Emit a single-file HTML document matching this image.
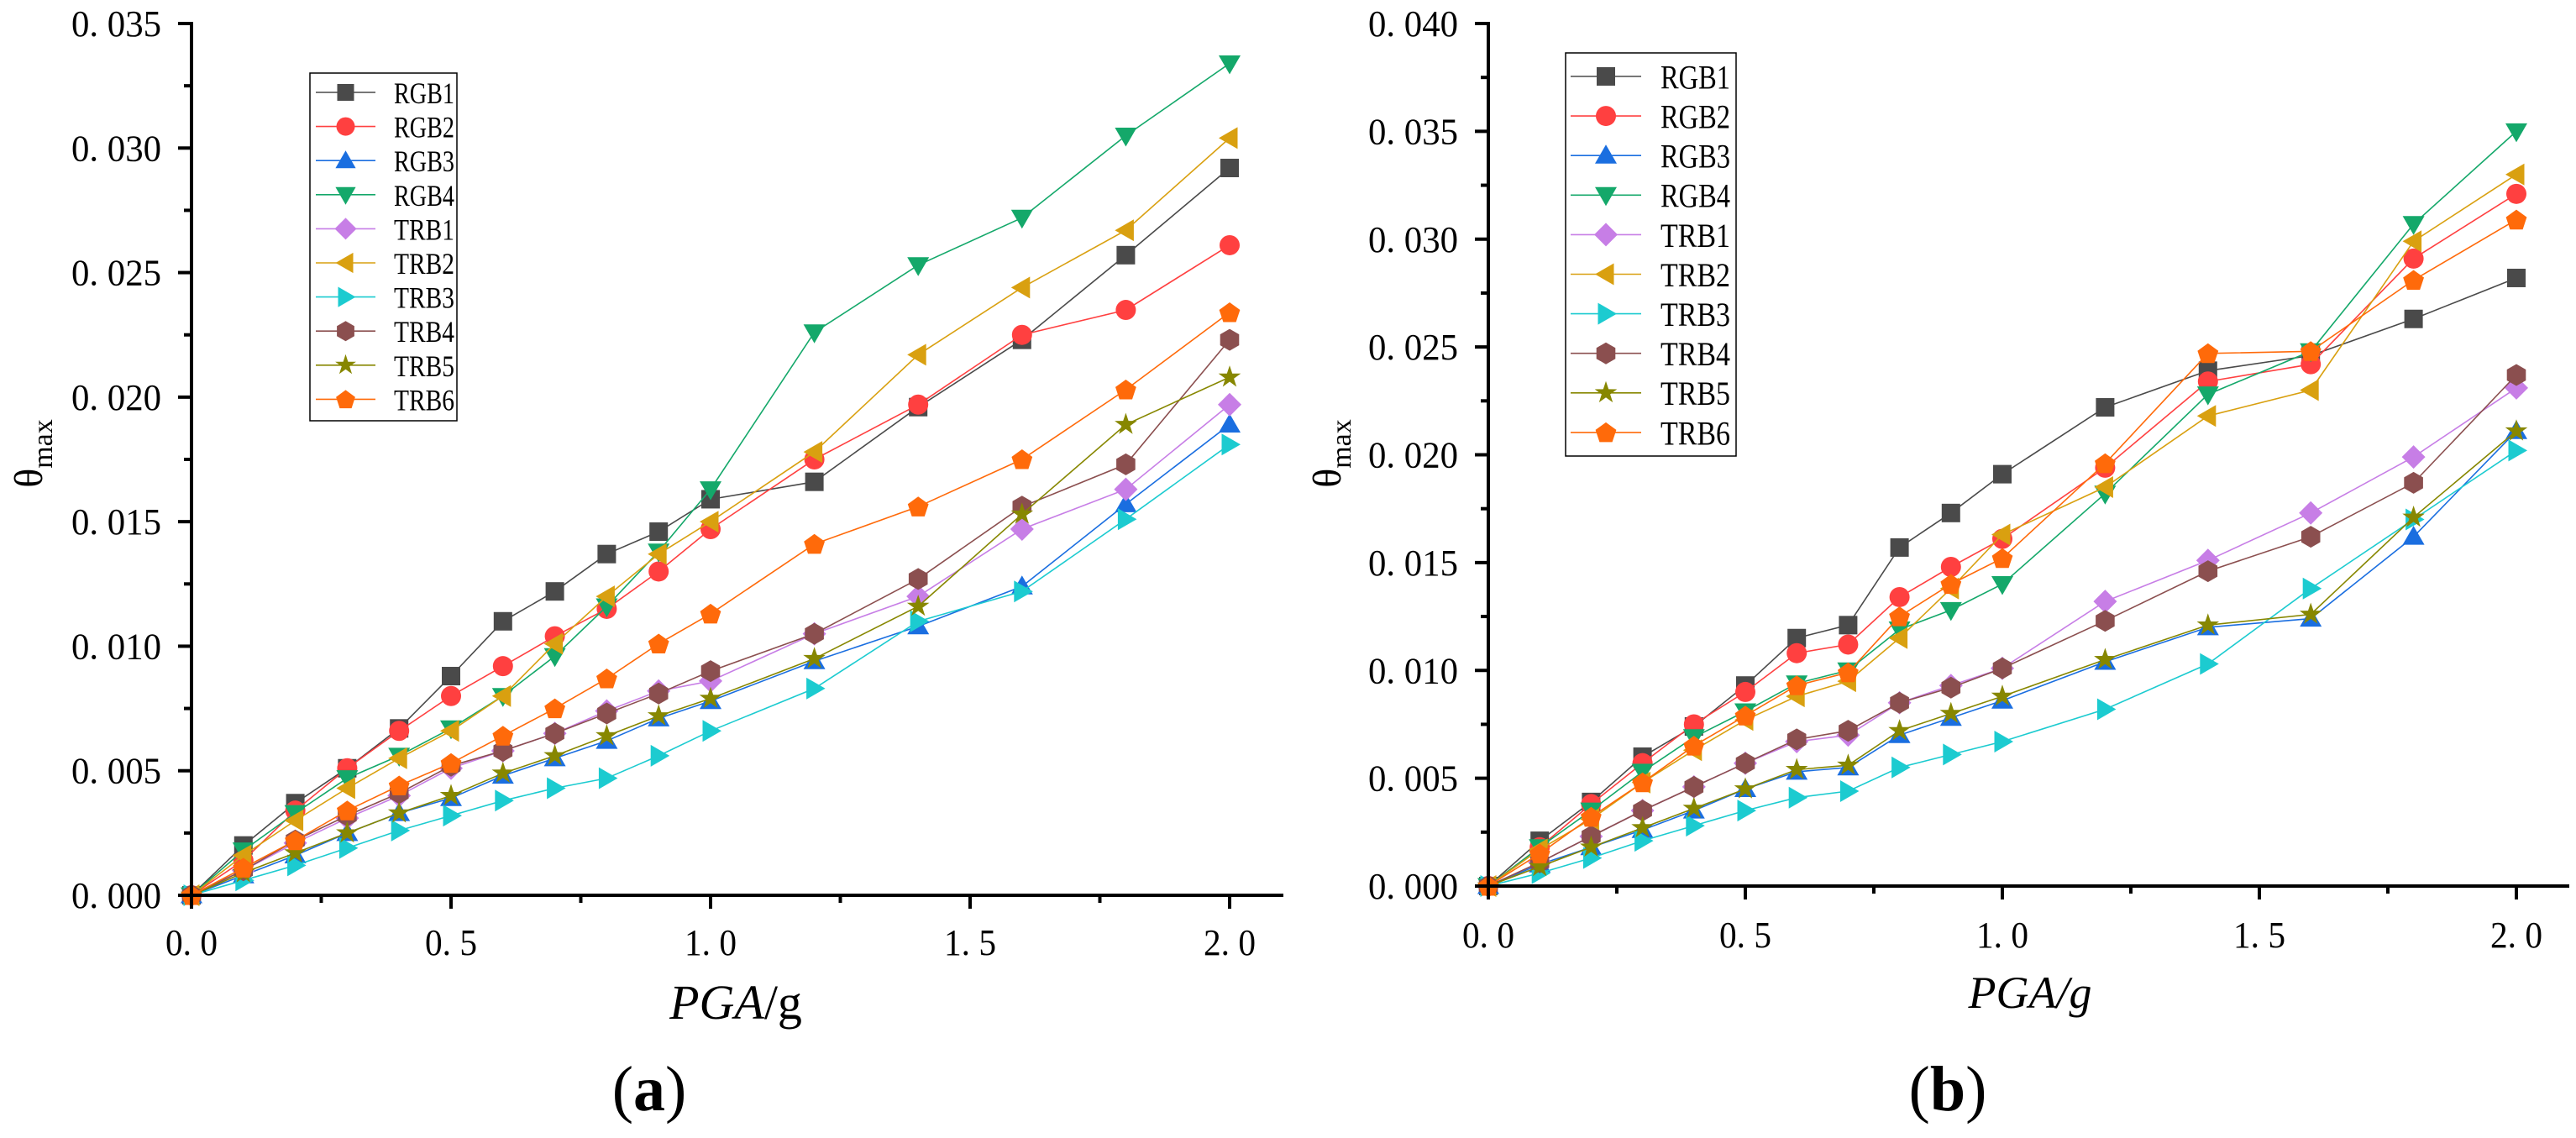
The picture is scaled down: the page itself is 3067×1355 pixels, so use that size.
<!DOCTYPE html>
<html><head><meta charset="utf-8">
<style>
html,body{margin:0;padding:0;background:#fff;}
svg{display:block;}
text{font-family:"Liberation Serif","Noto Serif CJK SC",serif;fill:#000;}
</style></head>
<body>
<svg id="fig" width="3067" height="1355" viewBox="0 0 3067 1355" xmlns="http://www.w3.org/2000/svg"></svg>
<script>
// ---- data ----
const pga = [0,0.1,0.2,0.3,0.4,0.5,0.6,0.7,0.8,0.9,1.0,1.2,1.4,1.6,1.8,2.0];
const seriesNames = ["RGB1","RGB2","RGB3","RGB4","TRB1","TRB2","TRB3","TRB4","TRB5","TRB6"];
const xTickLabels = ["0. 0","0. 5","1. 0","1. 5","2. 0"];
const yTickLabelsA = ["0. 000","0. 005","0. 010","0. 015","0. 020","0. 025","0. 030","0. 035"];
const yTickLabelsB = ["0. 000","0. 005","0. 010","0. 015","0. 020","0. 025","0. 030","0. 035","0. 040"];
// panel (a)
const aRGB1 = [0,0.0020,0.0037,0.0051,0.0067,0.0088,0.0110,0.0122,0.0137,0.0146,0.0159,0.0166,0.0196,0.0223,0.0257,0.0292];
const aRGB2 = [0,0.0014,0.0034,0.0051,0.0066,0.0080,0.0092,0.0104,0.0115,0.0130,0.0147,0.0175,0.0197,0.0225,0.0235,0.0261];
const aRGB3 = [0,0.0008,0.0016,0.0025,0.0033,0.0039,0.0048,0.0055,0.0062,0.0071,0.0078,0.0094,0.0108,0.0124,0.0157,0.0189];
const aRGB4 = [0,0.0018,0.0033,0.0047,0.0056,0.0067,0.0080,0.0096,0.0116,0.0138,0.0163,0.0226,0.0253,0.0272,0.0305,0.0334];
const aTRB1 = [0,0.0010,0.0021,0.0031,0.0040,0.0051,0.0058,0.0065,0.0074,0.0082,0.0086,0.0105,0.0120,0.0147,0.0163,0.0197];
const aTRB2 = [0,0.0016,0.0030,0.0043,0.0055,0.0066,0.0080,0.0101,0.0120,0.0137,0.0150,0.0178,0.0217,0.0244,0.0267,0.0304];
const aTRB3 = [0,0.0006,0.0012,0.0019,0.0026,0.0032,0.0038,0.0043,0.0047,0.0056,0.0066,0.0083,0.0110,0.0122,0.0151,0.0181];
const aTRB4 = [0,0.0010,0.0022,0.0032,0.0041,0.0052,0.0058,0.0065,0.0073,0.0081,0.0090,0.0105,0.0127,0.0156,0.0173,0.0223];
const aTRB5 = [0,0.0009,0.0017,0.0025,0.0033,0.0040,0.0049,0.0056,0.0064,0.0072,0.0079,0.0095,0.0116,0.0153,0.0189,0.0208];
const aTRB6 = [0,0.0011,0.0022,0.0034,0.0044,0.0053,0.0064,0.0075,0.0087,0.0101,0.0113,0.0141,0.0156,0.0175,0.0203,0.0234];
// panel (b)
const bRGB1 = [0,0.0021,0.0039,0.0060,0.0074,0.0093,0.0115,0.0121,0.0157,0.0173,0.0191,0.0222,0.0239,0.0246,0.0263,0.0282];
const bRGB2 = [0,0.0018,0.0038,0.0057,0.0075,0.0090,0.0108,0.0112,0.0134,0.0148,0.0161,0.0194,0.0234,0.0242,0.0291,0.0321];
const bRGB3 = [0,0.0010,0.0018,0.0026,0.0035,0.0045,0.0053,0.0055,0.0070,0.0078,0.0086,0.0104,0.0120,0.0124,0.0162,0.0211];
const bRGB4 = [0,0.0018,0.0035,0.0053,0.0069,0.0081,0.0094,0.0100,0.0119,0.0128,0.0140,0.0182,0.0228,0.0248,0.0307,0.0350];
const bTRB1 = [0,0.0011,0.0023,0.0035,0.0046,0.0057,0.0067,0.0070,0.0085,0.0093,0.0101,0.0132,0.0151,0.0173,0.0199,0.0231];
const bTRB2 = [0,0.0017,0.0031,0.0048,0.0063,0.0077,0.0088,0.0095,0.0115,0.0138,0.0163,0.0185,0.0218,0.0230,0.0299,0.0330];
const bTRB3 = [0,0.0006,0.0013,0.0021,0.0028,0.0035,0.0041,0.0044,0.0055,0.0061,0.0067,0.0082,0.0103,0.0138,0.0170,0.0202];
const bTRB4 = [0,0.0011,0.0023,0.0035,0.0046,0.0057,0.0068,0.0072,0.0085,0.0092,0.0101,0.0123,0.0146,0.0162,0.0187,0.0237];
const bTRB5 = [0,0.0009,0.0018,0.0027,0.0036,0.0045,0.0054,0.0056,0.0072,0.0080,0.0088,0.0105,0.0121,0.0126,0.0171,0.0211];
const bTRB6 = [0,0.0015,0.0032,0.0048,0.0065,0.0079,0.0093,0.0099,0.0125,0.0140,0.0152,0.0196,0.0247,0.0248,0.0281,0.0309];

const colors = ["#4a4a4a","#ff4040","#1a6ee0","#14a86a","#c77ee6","#d9a010","#1ccbd0","#8b4f4f","#878700","#ff6a0a"];
const shapes = ["square","circle","up","down","diamond","left","right","hex","star","pent"];

const NS = "http://www.w3.org/2000/svg";
const svg = document.getElementById("fig");
function mk(tag, attrs, parent){
  const e = document.createElementNS(NS, tag);
  for (const k in attrs) e.setAttribute(k, attrs[k]);
  (parent||svg).appendChild(e);
  return e;
}
function poly(cx,cy,r,n,rot){
  const p=[];
  for(let i=0;i<n;i++){const a=rot+i*2*Math.PI/n;p.push((cx+r*Math.cos(a)).toFixed(1)+","+(cy+r*Math.sin(a)).toFixed(1));}
  return p.join(" ");
}
function marker(shape,cx,cy,col,parent,s){
  s = s||12;
  let e;
  if(shape==="square") e=mk("rect",{x:cx-s+1,y:cy-s+1,width:2*s-2,height:2*s-2,fill:col},parent);
  else if(shape==="circle") e=mk("circle",{cx:cx,cy:cy,r:s,fill:col},parent);
  else if(shape==="up") e=mk("polygon",{points:poly(cx,cy+2,s+3,3,-Math.PI/2),fill:col},parent);
  else if(shape==="down") e=mk("polygon",{points:poly(cx,cy-2,s+3,3,Math.PI/2),fill:col},parent);
  else if(shape==="left") e=mk("polygon",{points:poly(cx+2,cy,s+3,3,Math.PI),fill:col},parent);
  else if(shape==="right") e=mk("polygon",{points:poly(cx-2,cy,s+3,3,0),fill:col},parent);
  else if(shape==="diamond") e=mk("polygon",{points:poly(cx,cy,s+2,4,0),fill:col},parent);
  else if(shape==="hex") e=mk("polygon",{points:poly(cx,cy,s+1,6,Math.PI/2),fill:col},parent);
  else if(shape==="pent") e=mk("polygon",{points:poly(cx,cy+1,s+1,5,-Math.PI/2),fill:col},parent);
  else if(shape==="star"){
    const p=[];for(let i=0;i<10;i++){const r=i%2?s*0.45:s+2;const a=-Math.PI/2+i*Math.PI/5;p.push((cx+r*Math.cos(a)).toFixed(1)+","+(cy+r*Math.sin(a)).toFixed(1));}
    e=mk("polygon",{points:p.join(" "),fill:col},parent);
  }
  return e;
}

function drawPanel(P){
  const g = mk("g",{});
  
  
  const X = v => P.x0 + (P.x2 - P.x0) * v / 2.0;
  const Y = v => P.y0 - (P.y0 - P.ytop) * v / P.ymax;
  P.data.forEach((arr,si)=>{
    const sg = mk("g",{},g);
    
    
    const pts = arr.map((v,i)=>X(pga[i]).toFixed(1)+","+Y(v).toFixed(1)).join(" ");
    const pl = mk("polyline",{points:pts,fill:"none",stroke:colors[si],"stroke-width":1.6},sg);
    
    
    arr.forEach((v,i)=>{
      const m = marker(shapes[si],X(pga[i]),Y(v),colors[si],sg);
      
      
    });
  });
  const ax = mk("g",{stroke:"#000","stroke-width":4,fill:"none"},g);
  
  
  mk("line",{x1:P.x0,y1:P.ytop-2,x2:P.x0,y2:P.y0},ax);
  mk("line",{x1:P.x0-14,y1:P.y0,x2:P.xend,y2:P.y0},ax);
  for(let i=0;i<=8;i++){
    const v=i*0.25, x=X(v);
    const major = i%2===0;
    mk("line",{x1:x,y1:P.y0,x2:x,y2:P.y0+(major?16:9)},ax);
  }
  xTickLabels.forEach((lab,i)=>{
    const t = mk("text",{x:X(i*0.5),y:P.xLabY,"text-anchor":"middle","font-size":44,textLength:62,lengthAdjust:"spacingAndGlyphs"},g);
    t.textContent = lab;
    
    
  });
  const nMaj = P.yLabels.length-1;
  for(let i=0;i<=nMaj*2;i++){
    const v=i*0.0025, y=Y(v);
    const major = i%2===0;
    mk("line",{x1:P.x0,y1:y,x2:P.x0-(major?16:9),y2:y},ax);
  }
  P.yLabels.forEach((lab,i)=>{
    const t = mk("text",{x:P.yLabX,y:Y(i*0.005)+15,"text-anchor":"end","font-size":44,textLength:107,lengthAdjust:"spacingAndGlyphs"},g);
    t.textContent = lab;
    
    
  });
  const lg = mk("g",{},g);
  
  
  const L = P.leg;
  mk("rect",{x:L.x,y:L.y,width:L.w,height:L.h,fill:"#fff",stroke:"#000","stroke-width":1.5},lg);
  seriesNames.forEach((nm,si)=>{
    const ey = L.r0 + si*L.dy;
    const eg = mk("g",{},lg);
    
    
    mk("line",{x1:L.l1,y1:ey,x2:L.l2,y2:ey,stroke:colors[si],"stroke-width":1.6},eg);
    marker(shapes[si],(L.l1+L.l2)/2,ey,colors[si],eg,L.ms);
    const t = mk("text",{x:L.tx,y:ey+L.fs*0.36,"font-size":L.fs,textLength:L.tw,lengthAdjust:"spacingAndGlyphs"},eg);
    t.textContent = nm;
  });
  const yt = mk("text",{transform:"translate("+P.ytX+","+P.ytY+") rotate(-90)","text-anchor":"middle","font-size":48},g);
  
  
  yt.innerHTML = 'θ<tspan dy="12" font-size="34">max</tspan>';
  const xt = mk("text",{x:P.xtX,y:P.xtY,"text-anchor":"middle","font-size":P.xtFs,"font-style":"italic"},g);
  
  
  xt.innerHTML = P.xtHtml;
  const pl = mk("text",{x:P.plX,y:1322,"text-anchor":"middle","font-size":76},g);
  
  
  pl.innerHTML = '(<tspan font-weight="bold">'+P.letter+'</tspan>)';
}

drawPanel({name:"chart-a",letter:"a",x0:228,x2:1464,xend:1528,y0:1066,ytop:28,ymax:0.035,
  yLabels:yTickLabelsA,yLabX:192,xLabY:1137,
  data:[aRGB1,aRGB2,aRGB3,aRGB4,aTRB1,aTRB2,aTRB3,aTRB4,aTRB5,aTRB6],
  leg:{x:369,y:87,w:175,h:414,r0:110,dy:40.6,l1:376,l2:447,tx:469,tw:72,fs:36,ms:11},
  ytX:50,ytY:540,xtX:876,xtY:1213,xtFs:58,
  xtHtml:'PGA<tspan font-style="normal">/g</tspan>',plX:773});
drawPanel({name:"chart-b",letter:"b",x0:1772,x2:2996,xend:3059,y0:1055,ytop:28,ymax:0.040,
  yLabels:yTickLabelsB,yLabX:1736,xLabY:1128,
  data:[bRGB1,bRGB2,bRGB3,bRGB4,bTRB1,bTRB2,bTRB3,bTRB4,bTRB5,bTRB6],
  leg:{x:1864,y:63,w:203,h:480,r0:91,dy:47.1,l1:1870,l2:1954,tx:1977,tw:83,fs:40,ms:12},
  ytX:1596,ytY:540,xtX:2417,xtY:1200,xtFs:54,
  xtHtml:'PGA/g',plX:2319});
</script>
</body></html>
